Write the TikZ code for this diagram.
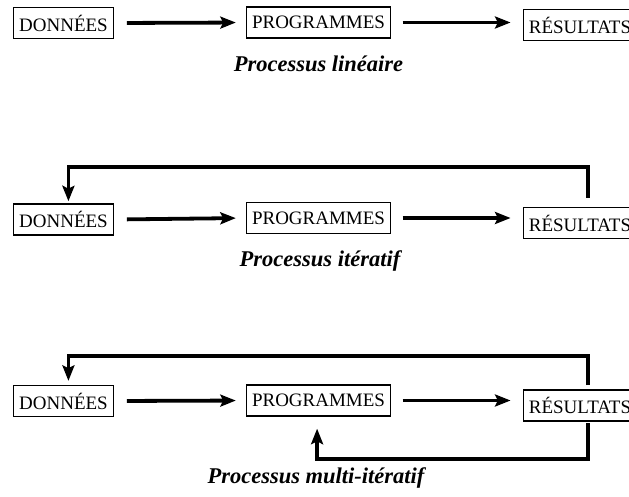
\documentclass[tikz,border=0pt]{standalone}
\usepackage{fontspec}
\setmainfont{Liberation Serif}
\usetikzlibrary{arrows.meta}
\tikzset{every node/.style={inner sep=0pt},
  box/.style={draw, line width=1.1pt, minimum height=22pt, inner xsep=4pt, font=\fontsize{13.5}{15}\selectfont},
  flow/.style={line width=2.7pt, -{Stealth[length=11pt,width=8.5pt,inset=2pt]}},
  back/.style={line width=2.7pt, -{Stealth[length=11pt,width=8.5pt,inset=2pt]}},
  title/.style={font=\fontsize{16}{18}\selectfont\bfseries\itshape}}

\begin{document}
\begin{tikzpicture}[x=0.025cm,y=-0.025cm]
   \useasboundingbox (0,0) rectangle (629,496);
   % lineaire
   \begin{scope}
    \node[box] (d) at ( 63.5, 23.0) {DONNÉES};
    \node[box] (p) at (318.5, 22.5) {PROGRAMMES};
    \node[box] (r) at (580.0, 25.0) {RÉSULTATS};
    \draw[flow,shorten <=9pt,shorten >=7pt] (d.east) -- (p.west);
    \draw[flow,shorten <=8pt,shorten >=8.5pt] (p.east) -- (r.west |- p.east);
    \node[title] (t) at (318.5, 64) {Processus linéaire};
   \end{scope}
   % iteratif
   \begin{scope}
    \node[box] (d) at ( 63.5, 219.5) {DONNÉES};
    \node[box] (p) at (318.5, 218.0) {PROGRAMMES};
    \node[box] (r) at (580.0, 223.0) {RÉSULTATS};
    \draw[flow,shorten <=9pt,shorten >=7pt] (d.east) -- (p.west);
    \draw[flow,shorten <=8pt,shorten >=8.5pt] (p.east) -- (r.west |- p.east);
    \draw[back,shorten <=6.4pt,shorten >=1.4pt] ([xshift=5.5pt]r.north) -- ++(0,-40) -| ([xshift=3.5pt]d.north);
    \node[title] (t) at (320, 261) {Processus itératif};
   \end{scope}
   % multi-iteratif
   \begin{scope}
    \node[box] (d) at ( 63.5, 401.0) {DONNÉES};
    \node[box] (p) at (318.5, 400.5) {PROGRAMMES};
    \node[box] (r) at (580.0, 405.5) {RÉSULTATS};
    \draw[flow,shorten <=9pt,shorten >=7pt] (d.east) -- (p.west);
    \draw[flow,shorten <=8pt,shorten >=8.5pt] (p.east) -- (r.west |- p.east);
    \draw[back,shorten <=3pt,shorten >=2.8pt] ([xshift=5.5pt]r.north) -- ++(0,-33) -| ([xshift=3.5pt]d.north);
    \draw[back,shorten <=1pt,shorten >=8.5pt] ([xshift=5.5pt]r.south) -- ++(0,37) -| ([xshift=-1pt]p.south);
    \node[title] (t) at (316, 478) {Processus multi-itératif};
   \end{scope}
\end{tikzpicture}
\end{document}
